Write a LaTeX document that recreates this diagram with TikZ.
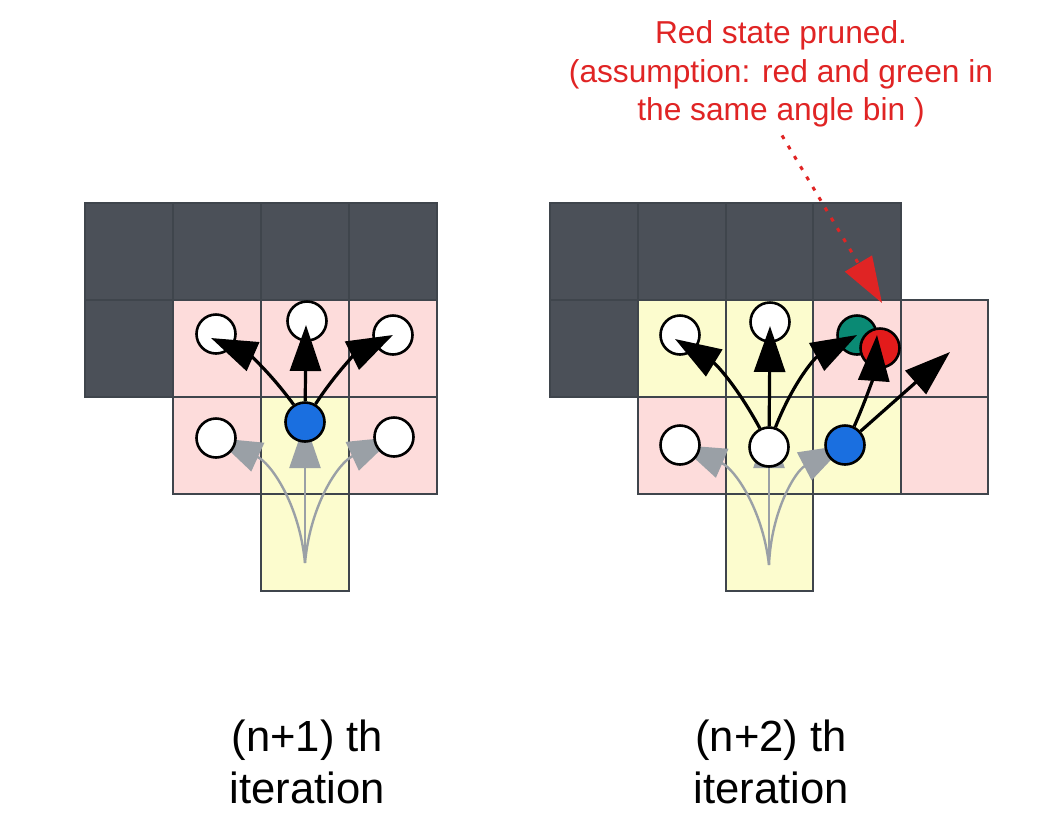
\documentclass[tikz,border=0pt]{standalone}
\usepackage{fontspec}
\setmainfont{Liberation Sans}
\usetikzlibrary{arrows.meta,calc}
\definecolor{cdark}{HTML}{4B5058}
\definecolor{cline}{HTML}{3F454C}
\definecolor{cpink}{HTML}{FDDCDB}
\definecolor{cyel}{HTML}{FCFCCE}
\definecolor{cblue}{HTML}{1A6FE0}
\definecolor{cgreen}{HTML}{0A8A74}
\definecolor{cred}{HTML}{E31B1B}
\definecolor{cnote}{HTML}{E02424}
\definecolor{cgray}{HTML}{9AA0A6}
\pgfdeclarelayer{cells}
\pgfdeclarelayer{prev}
\pgfsetlayers{cells,prev,main}
\tikzset{
  darkc/.style={fill=cdark, draw=cline, line width=2.8pt},
  pinkc/.style={fill=cpink, draw=cline, line width=2.8pt},
  yelc/.style={fill=cyel, draw=cline, line width=2.8pt},
  state/.style={circle, draw=black, line width=2.6pt, minimum size=39pt, inner sep=0pt, fill=white},
  movearrow/.style={-{Triangle[length=46pt,width=31pt]}, draw=black, line width=3.2pt},
  prevarrow/.style={-{Triangle[length=46pt,width=31pt]}, draw=cgray, line width=2.4pt},
  notearrow/.style={-{Triangle[length=46pt,width=31pt]}, draw=cnote, line width=3pt, dash pattern=on 4pt off 8pt},
  notetext/.style={text=cnote, align=center, inner sep=0pt, font=\fontsize{31.7pt}{38.5pt}\selectfont},
  itertext/.style={text=black, align=center, inner sep=0pt, font=\fontsize{43.6pt}{52pt}\selectfont},
}
\begin{document}
\begin{tikzpicture}[x=1pt,y=-1pt]
\useasboundingbox (0,0) rectangle (1039,831);
\begin{pgfonlayer}{cells}
\fill[white] (0,0) rectangle (1039,831);
% left grid
\path[darkc] (85,203) rectangle (173,300);
\path[darkc] (173,203) rectangle (261,300);
\path[darkc] (261,203) rectangle (349,300);
\path[darkc] (349,203) rectangle (437,300);
\path[darkc] (85,300) rectangle (173,397);
\path[pinkc] (173,300) rectangle (261,397);
\path[pinkc] (261,300) rectangle (349,397);
\path[pinkc] (349,300) rectangle (437,397);
\path[pinkc] (173,397) rectangle (261,494);
\path[yelc] (261,397) rectangle (349,494);
\path[pinkc] (349,397) rectangle (437,494);
\path[yelc] (261,494) rectangle (349,591);
% right grid
\path[darkc] (550,203) rectangle (638,300);
\path[darkc] (638,203) rectangle (726,300);
\path[darkc] (726,203) rectangle (813,300);
\path[darkc] (813,203) rectangle (901,300);
\path[darkc] (550,300) rectangle (638,397);
\path[yelc] (638,300) rectangle (726,397);
\path[yelc] (726,300) rectangle (813,397);
\path[pinkc] (813,300) rectangle (901,397);
\path[pinkc] (901,300) rectangle (988,397);
\path[pinkc] (638,397) rectangle (726,494);
\path[yelc] (726,397) rectangle (813,494);
\path[yelc] (813,397) rectangle (901,494);
\path[pinkc] (901,397) rectangle (988,494);
\path[yelc] (726,494) rectangle (813,591);
\end{pgfonlayer}

% states, left
\node[state] (a1) at (216,334) {};
\node[state] (a2) at (307,321) {};
\node[state] (a3) at (393,335) {};
\node[state] (a4) at (216,438) {};
\node[state, fill=cblue] (ablue) at (305,422) {};
\node[state] (a6) at (394,437) {};
\coordinate (gsrcL) at (305,563);

% states, right
\node[state] (b1) at (680,335) {};
\node[state] (b2) at (770,322) {};
\node[state, fill=cgreen] (bgreen) at (857,335) {};
\node[state, fill=cred] (bred) at (880,348) {};
\node[state] (b4) at (680,445) {};
\node[state] (b5) at (769,447) {};
\node[state, fill=cblue] (bblue) at (845,445) {};
\coordinate (gsrcR) at (769,565);
\coordinate (bfree) at (950,352);

% previous expansions (grey)
\begin{pgfonlayer}{prev}
\draw[prevarrow] (gsrcL) to[bend right=30] (a4.center);
\draw[prevarrow] (gsrcL) -- (ablue.center);
\draw[prevarrow] (gsrcL) to[bend left=30] (a6.center);
\draw[prevarrow] (gsrcR) to[bend right=30] (b4.center);
\draw[prevarrow] (gsrcR) -- ($(b5.center)+(0,-25)$);
\draw[prevarrow] (gsrcR) to[bend left=30] (bblue.center);
\end{pgfonlayer}

% current expansions (black)
\draw[movearrow] (ablue) to[bend right=15] ($(a1.center)+(-5,4)$);
\draw[movearrow] (ablue) -- ($(a2.center)+(-1,4)$);
\draw[movearrow] (ablue) to[bend left=15] (a3.center);
\draw[movearrow] (b5) to[bend right=15] ($(b1.center)+(-5,4)$);
\draw[movearrow] (b5) -- ($(b2.center)+(0,4)$);
\draw[movearrow] (b5) to[bend left=20] (bgreen.center);
\draw[movearrow] (bblue) to[bend right=10] ($(bred.center)+(-3,-13)$);
\draw[movearrow] (bblue) -- (bfree);

% annotation
\node[notetext] (note) at (781,74) {Red state pruned.\\(assumption: red and green in\\the same angle bin )};
\coordinate (prune) at (882,303);
\draw[notearrow] ($(note.south)+(1,8)$) -- (prune);

% captions
\node[itertext] (lab1) at (307.5,762) {(n+1) th\\iteration};
\node[itertext] (lab2) at (771,762) {(n+2) th\\iteration};
\end{tikzpicture}
\end{document}
